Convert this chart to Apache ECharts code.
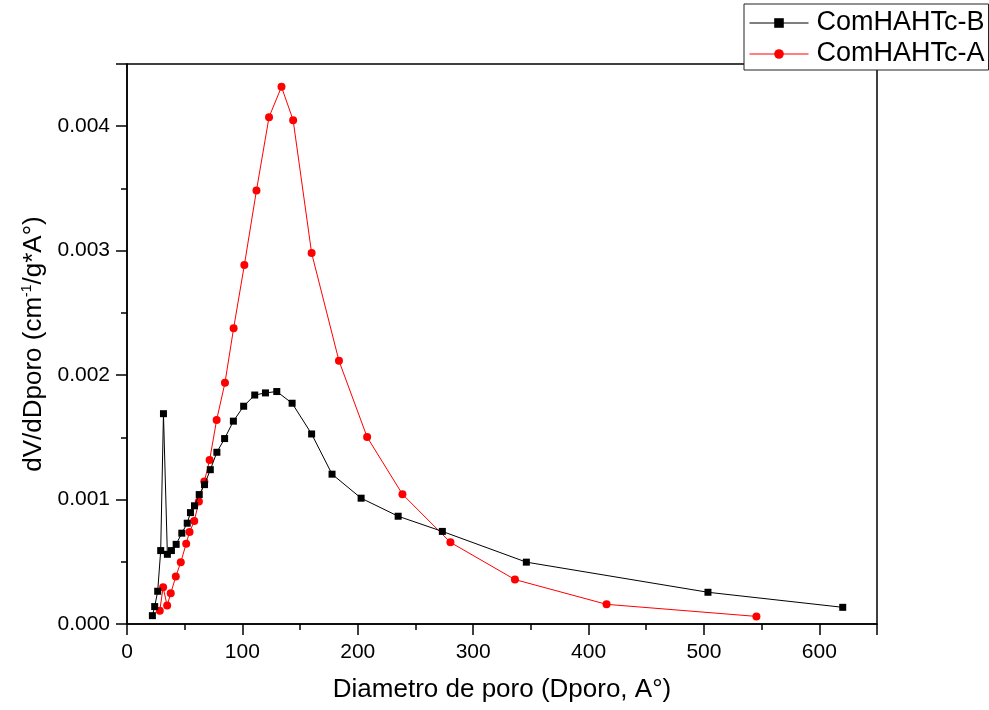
<!DOCTYPE html>
<html>
<head>
<meta charset="utf-8">
<script src="https://cdn.jsdelivr.net/npm/echarts@6/dist/echarts.min.js"></script>
<style>
  html, body { margin: 0; padding: 0; background: #fff; }
  #chart { width: 989px; height: 710px; }
</style>
</head>
<body>
<div id="chart"></div>
<script>
// Pore size distribution (BJH): dV/dD versus pore diameter
const seriesNames = ['ComHAHTc-B', 'ComHAHTc-A'];

const diamB = [22.0, 24.0, 26.6, 29.2, 31.6, 35.0, 38.5, 42.6, 47.5, 52.2, 55.0, 58.5,
  62.6, 67.2, 72.2, 77.9, 84.6, 92.2, 101.1, 110.7, 120.0, 129.8, 143.1, 160.0,
  177.7, 202.9, 235.0, 273.3, 346.1, 503.5, 620.3];
const dvB = [0.000067, 0.00014, 0.000263, 0.00059, 0.00169, 0.00056, 0.00059, 0.00064,
  0.00073, 0.00081, 0.000895, 0.00095, 0.00104, 0.00112, 0.00124, 0.00138, 0.00149,
  0.00163, 0.00175, 0.00184, 0.001857, 0.001868, 0.001774, 0.001527, 0.001204,
  0.001011, 0.000866, 0.000744, 0.000497, 0.000255, 0.000134];

const diamA = [28.4, 31.3, 34.8, 37.9, 42.3, 46.6, 51.3, 54.2, 58.3, 62.3, 67.0, 71.6,
  77.7, 84.9, 92.4, 101.7, 112.2, 123.1, 133.9, 144.0, 160.0, 183.7, 208.1, 238.7,
  280.3, 336.2, 415.6, 545.5];
const dvA = [0.000107, 0.000295, 0.000148, 0.000247, 0.000381, 0.000497, 0.000645,
  0.000739, 0.000828, 0.000984, 0.001145, 0.001317, 0.00164, 0.001938, 0.002376,
  0.002884, 0.003484, 0.004073, 0.004317, 0.004048, 0.002981, 0.002115, 0.001502,
  0.001043, 0.000656, 0.000357, 0.000158, 0.000061];

const FONT = '"Liberation Sans", Arial, sans-serif';
const pairs = (xs, ys) => xs.map((x, i) => [x, ys[i]]);

const chart = echarts.init(document.getElementById('chart'), null, { renderer: 'canvas' });

const axisLine = { show: true, lineStyle: { color: '#000', width: 1.5 } };

chart.setOption({
  animation: false,
  backgroundColor: '#fff',
  grid: {
    left: 127, right: 112, top: 64, bottom: 86,
    show: true, borderColor: '#000', borderWidth: 1.5,
    containLabel: false, outerBoundsMode: 'none'
  },
  legend: {
    orient: 'vertical',
    left: 744, top: 4,
    padding: [5, 4, 2, 5],
    itemGap: 3,
    itemWidth: 59, itemHeight: 12,
    backgroundColor: '#fff',
    borderColor: '#222', borderWidth: 1,
    lineStyle: { width: 1 },
    textStyle: { fontFamily: FONT, fontSize: 27, color: '#000', lineHeight: 28, padding: [0, 0, 0, 3] },
    data: seriesNames
  },
  xAxis: [
    {
      type: 'value', min: 0, max: 650, interval: 50,
      axisLine: axisLine,
      axisTick: { show: true, length: 6, lineStyle: { color: '#000', width: 1.5 } },
      axisLabel: {
        interval: 0, margin: 18, color: '#000', fontFamily: FONT, fontSize: 21,
        formatter: v => (Math.round(v) % 100 === 0 ? String(Math.round(v)) : '')
      },
      splitLine: { show: false },
      name: 'Diametro de poro (Dporo, A°)',
      nameLocation: 'middle', nameGap: 53,
      nameTextStyle: { fontFamily: FONT, fontSize: 26, color: '#000' }
    },
    {
      type: 'value', min: 0, max: 650, interval: 100, position: 'bottom',
      axisLine: { show: false },
      axisTick: { show: true, length: 11, lineStyle: { color: '#000', width: 1.5 } },
      axisLabel: { show: false },
      splitLine: { show: false }
    }
  ],
  yAxis: [
    {
      type: 'value', min: 0, max: 0.0045, interval: 0.0005,
      axisLine: axisLine,
      axisTick: { show: true, length: 6, lineStyle: { color: '#000', width: 1.5 } },
      axisLabel: {
        interval: 0, margin: 17, color: '#000', fontFamily: FONT, fontSize: 21,
        formatter: v => {
          const k = v * 1000;
          return Math.abs(k - Math.round(k)) < 1e-6 ? (Math.round(k) / 1000).toFixed(3) : '';
        }
      },
      splitLine: { show: false },
      name: 'dV/dDporo (cm{sup|-1}/g*A°)',
      nameLocation: 'middle', nameGap: 80,
      nameTextStyle: {
        fontFamily: FONT, fontSize: 26, color: '#000',
        rich: { sup: { fontFamily: FONT, fontSize: 14, color: '#000', verticalAlign: 'top', padding: [0, 0, 12, 0] } }
      }
    },
    {
      type: 'value', min: 0, max: 0.0045, interval: 0.001, position: 'left',
      axisLine: { show: false },
      axisTick: { show: true, length: 11, lineStyle: { color: '#000', width: 1.5 } },
      axisLabel: { show: false },
      splitLine: { show: false }
    }
  ],
  series: [
    {
      name: seriesNames[0], type: 'line',
      xAxisIndex: 0, yAxisIndex: 0,
      data: pairs(diamB, dvB),
      symbol: 'rect', symbolSize: 7,
      lineStyle: { color: '#000', width: 1 },
      itemStyle: { color: '#000' },
      z: 3
    },
    {
      name: seriesNames[1], type: 'line',
      xAxisIndex: 0, yAxisIndex: 0,
      data: pairs(diamA, dvA),
      symbol: 'circle', symbolSize: 8,
      lineStyle: { color: '#ff0000', width: 1 },
      itemStyle: { color: '#ff0000' },
      z: 2
    }
  ]
});
</script>
</body>
</html>
